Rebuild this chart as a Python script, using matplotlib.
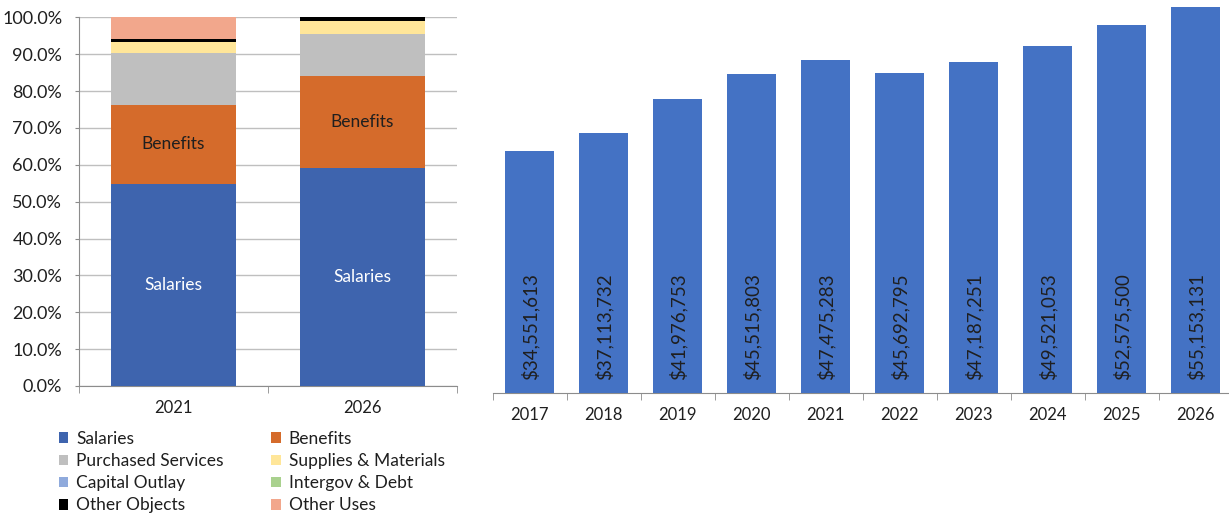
import matplotlib
matplotlib.use("Agg")
import matplotlib.pyplot as plt
import numpy as np
from matplotlib.patches import Patch
from matplotlib.ticker import FuncFormatter, MultipleLocator

plt.rcParams["font.family"] = ["Lato", "DejaVu Sans"]

# share of spending by object, percent
share_years = ["2021", "2026"]
share_labels = ["Salaries", "Benefits", "Purchased Services", "Supplies & Materials",
                "Capital Outlay", "Intergov & Debt", "Other Objects", "Other Uses"]
share_colors = ["#3E64AE", "#D56B2B", "#BFBFBF", "#FFE699",
                "#8FAADC", "#A9D18E", "#000000", "#F2A78C"]
share_2021 = [54.8, 21.5, 14.0, 3.0, 0.0, 0.0, 0.8, 5.9]
share_2026 = [59.0, 25.0, 11.6, 3.4, 0.0, 0.0, 1.0, 0.0]

# total spending by year
total_years = ["2017", "2018", "2019", "2020", "2021",
               "2022", "2023", "2024", "2025", "2026"]
total_spend = [34551613, 37113732, 41976753, 45515803, 47475283,
               45692795, 47187251, 49521053, 52575500, 55153131]

W, H = 1229, 515
fig = plt.figure(figsize=(W / 100, H / 100), dpi=100)

grid_c = "#BFBFBF"
axis_c = "#8C8C8C"
text_c = "#1F1F1F"

# ---- left: stacked share chart ----
ax1 = fig.add_axes([79 / W, (H - 386) / H, (457 - 79) / W, (386 - 17.3) / H])
shares = np.array([share_2021, share_2026])
x1 = np.arange(len(share_years))
bottom = np.zeros(len(share_years))
for i, col in enumerate(share_colors):
    ax1.bar(x1, shares[:, i], 0.66, bottom=bottom, color=col, zorder=3)
    bottom += shares[:, i]

for j in range(len(share_years)):
    s = shares[j]
    ax1.text(x1[j], s[0] / 2, "Salaries", ha="center", va="center",
             color="white", fontsize=12.5, zorder=4)
    ax1.text(x1[j], s[0] + s[1] / 2, "Benefits", ha="center", va="center",
             color=text_c, fontsize=12.5, zorder=4)

ax1.set_xlim(-0.5, 1.5)
ax1.set_ylim(0, 100)
ax1.yaxis.set_major_locator(MultipleLocator(10))
ax1.yaxis.set_major_formatter(FuncFormatter(lambda v, p: f"{v:.1f}%"))
ax1.grid(axis="y", color=grid_c, lw=1.0, zorder=0)
ax1.set_xticks(x1)
ax1.set_xticklabels(share_years)
ax1.set_xticks([-0.5, 0.5, 1.5], minor=True)
ax1.tick_params(axis="x", which="major", length=0, pad=10, labelsize=12, labelcolor=text_c)
ax1.tick_params(axis="x", which="minor", length=5, color=axis_c)
ax1.tick_params(axis="y", length=3, color=axis_c, labelsize=13, labelcolor=text_c, pad=9)
for side in ["top", "right"]:
    ax1.spines[side].set_visible(False)
ax1.spines["left"].set_color(axis_c)
ax1.spines["bottom"].set_color(axis_c)

# legend is read row by row: reorder so matplotlib's column fill matches
handles = [Patch(facecolor=c, edgecolor="none", label=l)
           for l, c in zip(share_labels, share_colors)]
handles = handles[0::2] + handles[1::2]
fig.legend(handles=handles, loc="upper left", bbox_to_anchor=(50 / W, 1 - 422 / H),
           ncol=2, frameon=False, fontsize=12.5, handlelength=0.55, handleheight=0.55,
           handletextpad=0.45, columnspacing=2.75, labelspacing=0.36, borderpad=0,
           labelcolor=text_c)

# ---- right: total spending by year ----
ax2 = fig.add_axes([492.7 / W, (H - 392.7) / H, 740 / W, 420 / H])
x2 = np.arange(len(total_years))
ax2.bar(x2, total_spend, 0.66, color="#4472C4", zorder=3)
for xi, v in zip(x2, total_spend):
    ax2.text(xi, 1.8e6, f"${v:,.0f}", rotation=90, ha="center", va="bottom",
             color=text_c, fontsize=13.5, zorder=4)
ax2.set_xlim(-0.5, len(total_years) - 0.5)
ax2.set_ylim(0, 60e6)
ax2.set_yticks([])
ax2.set_xticks(x2)
ax2.set_xticklabels(total_years)
ax2.set_xticks(np.arange(-0.5, len(total_years)), minor=True)
ax2.tick_params(axis="x", which="major", length=0, pad=10, labelsize=12, labelcolor=text_c)
ax2.tick_params(axis="x", which="minor", length=5, color=axis_c)
for side in ["top", "right", "left"]:
    ax2.spines[side].set_visible(False)
ax2.spines["bottom"].set_color(axis_c)

fig.savefig("out.png", dpi=100)
